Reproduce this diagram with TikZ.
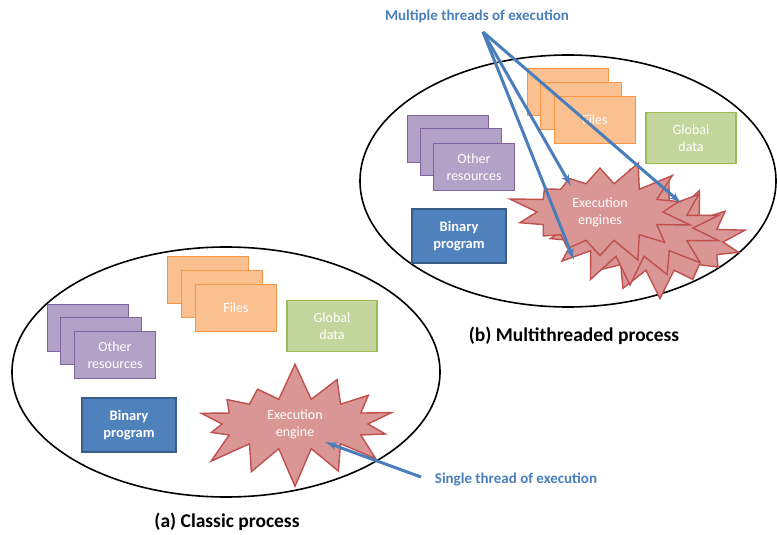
\documentclass[tikz,border=0pt]{standalone}
\usepackage{fontspec}
\setmainfont{Carlito}
\usepackage{tikz}
\usetikzlibrary{arrows}
\usetikzlibrary{shapes.symbols,shapes.geometric}

\definecolor{otherfill}{HTML}{B3A2C7}
\definecolor{otherline}{HTML}{8064A2}
\definecolor{filesfill}{HTML}{FAC090}
\definecolor{filesline}{HTML}{F79646}
\definecolor{globalfill}{HTML}{C3D69B}
\definecolor{globalline}{HTML}{9BBB59}
\definecolor{binfill}{HTML}{4F81BD}
\definecolor{binline}{HTML}{385D8A}
\definecolor{enginefill}{HTML}{D99694}
\definecolor{engineline}{HTML}{C0504D}
\definecolor{threadblue}{HTML}{4A7EBB}

\begin{document}
\begin{tikzpicture}[x=1pt, y=-1pt]
    \tikzstyle{block} = [draw, rectangle, text centered, align=center, text=white, line width=1.8pt, inner sep=2pt, font=\fontsize{14}{17}\selectfont];
    \tikzstyle{other} = [block, fill=otherfill, draw=otherline, minimum width=81pt, minimum height=47pt];
    \tikzstyle{files} = [block, fill=filesfill, draw=filesline, minimum width=81pt, minimum height=47pt];
    \tikzstyle{global} = [block, fill=globalfill, draw=globalline, minimum width=90pt, minimum height=51pt];
    \tikzstyle{binary} = [block, fill=binfill, draw=binline, minimum width=94pt, minimum height=54pt, font=\fontsize{14.5}{17.5}\selectfont\bfseries];
    \tikzstyle{engine} = [starburst, starburst points=14, starburst point height=30pt, fill=enginefill, draw=engineline, line width=1.4pt, text=white, align=center, font=\fontsize{14}{17}\selectfont];
    \tikzstyle{process} = [draw, ellipse, line width=1.6pt, inner sep=0pt];
    \tikzstyle{caption} = [font=\fontsize{19.5}{23}\selectfont\bfseries];
    \tikzstyle{note} = [text=threadblue, font=\fontsize{15}{18}\selectfont\bfseries];
    \tikzstyle{thread} = [draw=threadblue, line width=3pt, -latex'];

    \useasboundingbox (0,0) rectangle (777,535);

    % (a) classic process
    \node[process, minimum width=428pt, minimum height=250pt] (classic) at (226,372) {};
    \node[other] (aother3) at (88,328) {};
    \node[other] (aother2) at (101,341) {};
    \node[other] (aother) at (115,355) {Other\\resources};
    \node[files] (afiles3) at (208,280) {};
    \node[files] (afiles2) at (222,294) {};
    \node[files] (afiles) at (236,308) {Files};
    \node[global] (aglobal) at (332,326) {Global\\data};
    \node[binary] (abinary) at (129,425) {Binary\\program};
    \node[engine, minimum width=222pt, minimum height=120pt, starburst point height=38pt, random starburst=7] (aengine) at (295,424) {Execution\\engine};
    \node[caption] (acap) at (227,522) {(a) Classic process};

    % (b) multithreaded process
    \node[process, minimum width=416pt, minimum height=252pt] (multi) at (568,181) {};
    \node[other] (bother3) at (448,139) {};
    \node[other] (bother2) at (461,152) {};
    \node[other] (bother) at (474,167) {Other\\resources};
    \node[files] (bfiles3) at (568,92) {};
    \node[files] (bfiles2) at (581,106) {};
    \node[files] (bfiles) at (595,120) {Files};
    \node[global] (bglobal) at (691,138) {Global\\data};
    \node[binary] (bbinary) at (459,236) {Binary\\program};
    \node[engine, minimum width=186pt, minimum height=118pt, random starburst=21] (bengine3) at (660,242) {};
    \node[engine, minimum width=186pt, minimum height=118pt, random starburst=33] (bengine2) at (630,228) {};
    \node[engine, minimum width=186pt, minimum height=118pt, random starburst=45] (bengine) at (600,212) {Execution\\engines};
    \node[caption] (bcap) at (574,336) {(b) Multithreaded process};

    % threads
    \node[note] (mnote) at (477,16) {Multiple threads of execution};
    \node[note] (snote) at (516,479) {Single thread of execution};
    \coordinate (fan) at (483,32);
    \coordinate (sfrom) at (421,477);
    \coordinate (bt1) at (571,186);
    \coordinate (bt2) at (574,260);
    \coordinate (bt3) at (681,203);
    \coordinate (at1) at (325,442);
    \tikzstyle{every path}=[thread]
    \path (fan) -- (bt1);
    \path (fan) -- (bt2);
    \path (fan) -- (bt3);
    \path (sfrom) -- (at1);
\end{tikzpicture}
\end{document}
